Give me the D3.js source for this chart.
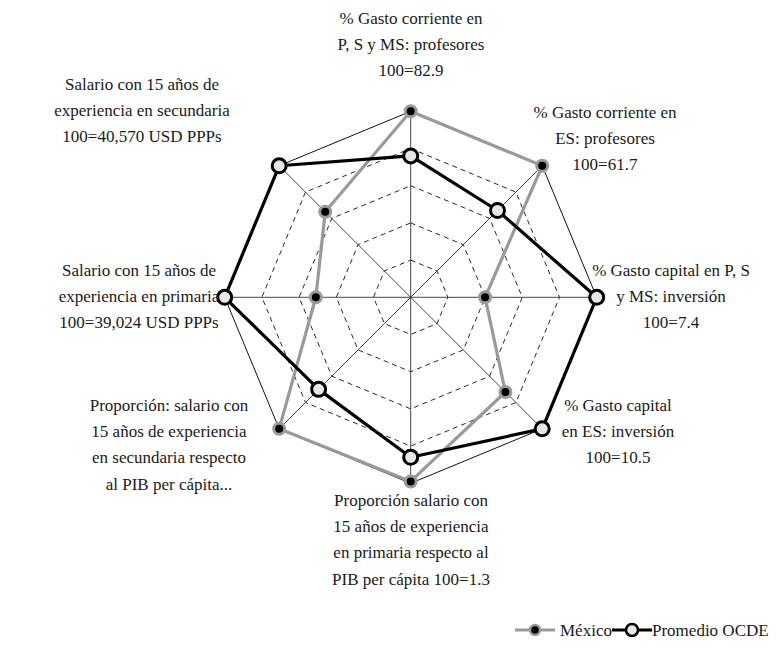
<!DOCTYPE html>
<html><head><meta charset="utf-8">
<script src="https://cdn.jsdelivr.net/npm/d3@7"></script>
<style>
@font-face{font-family:"RefSerif";src:local("Liberation Serif"),local("LiberationSerif"),local("LiberationSerif-Regular"),local("Times New Roman");}
body{margin:0;background:#fff}svg{display:block}
</style>
</head><body><svg id="c" width="777" height="667"></svg>
<script>
const axesLabels = [
  ["% Gasto corriente en","P, S y MS: profesores","100=82.9"],
  ["% Gasto corriente en","ES: profesores","100=61.7"],
  ["% Gasto capital en P, S","y MS: inversión","100=7.4"],
  ["% Gasto capital","en ES: inversión","100=10.5"],
  ["Proporción salario con","15 años de experiencia","en primaria respecto al","PIB per cápita 100=1.3"],
  ["Proporción: salario con","15 años de experiencia","en secundaria respecto","al PIB per cápita..."],
  ["Salario con 15 años de","experiencia en primaria","100=39,024 USD PPPs"],
  ["Salario con 15 años de","experiencia en secundaria","100=40,570 USD PPPs"]
];
const mexico = [100, 100, 40, 72, 99, 100, 51, 65];
const ocde = [76, 66, 100, 100, 86, 70, 100, 100];
const ringLevels = [20, 40, 60, 80, 100];
const seriesNames = ["México", "Promedio OCDE"];

const FONT = '"Times New Roman", "Liberation Serif", RefSerif, serif';
const svg = d3.select("#c");
const cx = 410.7, cy = 297.3, R = 186;
const n = axesLabels.length;
const r = d3.scaleLinear().domain([0, 100]).range([0, R]);
const ang = i => -Math.PI/2 + i * 2*Math.PI/n;
const pt = (i, v) => [cx + r(v)*Math.cos(ang(i)), cy + r(v)*Math.sin(ang(i))];

const g = svg.append("g");
ringLevels.forEach(l => {
  const pts = d3.range(n).map(i => pt(i, l));
  g.append("path").attr("d", d3.line()(pts) + "Z").attr("fill","none")
   .attr("stroke","#111").attr("stroke-width", l===100?1:0.9)
   .attr("stroke-dasharray", l===100?null:"5,4");
});
d3.range(n).forEach(i => {
  const [x,y] = pt(i,100);
  g.append("line").attr("x1",cx).attr("y1",cy).attr("x2",x).attr("y2",y)
   .attr("stroke","#333").attr("stroke-width",0.9);
});
const lineGen = d3.line();
g.append("path").attr("d", lineGen(mexico.map((v,i)=>pt(i,v)))+"Z").attr("fill","none")
 .attr("stroke","#9a9a9a").attr("stroke-width",3.2).attr("stroke-linejoin","round");
g.append("path").attr("d", lineGen(ocde.map((v,i)=>pt(i,v)))+"Z").attr("fill","none")
 .attr("stroke","#000").attr("stroke-width",3.2).attr("stroke-linejoin","round");
g.selectAll(".mx").data(mexico).join("circle").attr("class","mx")
 .attr("cx",(v,i)=>pt(i,v)[0]).attr("cy",(v,i)=>pt(i,v)[1]).attr("r",5.5)
 .attr("fill","#000").attr("stroke","#9a9a9a").attr("stroke-width",3);
g.selectAll(".oc").data(ocde).join("circle").attr("class","oc")
 .attr("cx",(v,i)=>pt(i,v)[0]).attr("cy",(v,i)=>pt(i,v)[1]).attr("r",7)
 .attr("fill","#e6e7e8").attr("stroke","#000").attr("stroke-width",3);

const labelPos = [[411,24],[605,118],[671,276],[618,411],[411,506],[169,411],[139,276],[142,90]];
const lh = 26.2;
axesLabels.forEach((lines,i) => {
  lines.forEach((s,j) => svg.append("text").attr("text-anchor","middle")
    .style("font-family",FONT).style("font-size","17px").style("fill","#1a1a1a")
    .attr("x",labelPos[i][0]).attr("y",labelPos[i][1]+j*lh).text(s));
});

const ly = 630;
const lg = svg.append("g");
lg.append("line").attr("x1",515).attr("x2",555).attr("y1",ly).attr("y2",ly).attr("stroke","#9a9a9a").attr("stroke-width",3);
lg.append("circle").attr("cx",535).attr("cy",ly).attr("r",5).attr("fill","#000").attr("stroke","#9a9a9a").attr("stroke-width",2.5);
lg.append("text").attr("x",560).attr("y",ly+6).style("font-family",FONT).style("font-size","17px").style("fill","#1a1a1a").text(seriesNames[0]);
lg.append("line").attr("x1",612).attr("x2",652).attr("y1",ly).attr("y2",ly).attr("stroke","#000").attr("stroke-width",3);
lg.append("circle").attr("cx",632).attr("cy",ly).attr("r",6).attr("fill","#e6e7e8").attr("stroke","#000").attr("stroke-width",2.5);
lg.append("text").attr("x",652).attr("y",ly+6).style("font-family",FONT).style("font-size","17px").style("fill","#1a1a1a").text(seriesNames[1]);
</script></body></html>
